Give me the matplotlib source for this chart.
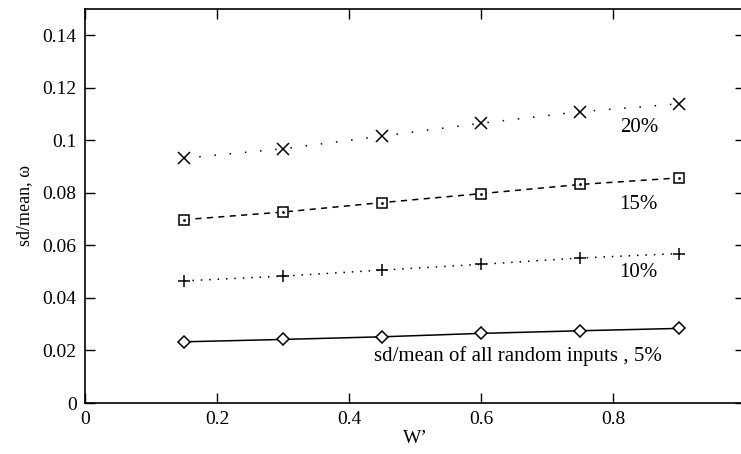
import matplotlib
matplotlib.use("Agg")
import matplotlib.pyplot as plt

plt.rcParams['font.family'] = ['Liberation Serif', 'DejaVu Serif']

w = [0.15, 0.30, 0.45, 0.60, 0.75, 0.90]
s5 = [0.0233, 0.0242, 0.0252, 0.0265, 0.0275, 0.0284]
s10 = [0.0465, 0.0483, 0.0506, 0.0528, 0.0552, 0.0569]
s15 = [0.0698, 0.0727, 0.0763, 0.0797, 0.0832, 0.0857]
s20 = [0.0932, 0.0968, 0.1016, 0.1065, 0.1109, 0.1139]
labels = ["sd/mean of all random inputs , 5%", "10%", "15%", "20%"]
xticks = [0, 0.2, 0.4, 0.6, 0.8]
yticks = [0, 0.02, 0.04, 0.06, 0.08, 0.1, 0.12, 0.14]
yticklabels = ["0", "0.02", "0.04", "0.06", "0.08", "0.1", "0.12", "0.14"]

fig = plt.figure(figsize=(7.41, 4.54), dpi=100)
ax = fig.add_axes([85/741, 51/454, 660/741, 394/454])

ax.plot(w, s5, color='black', lw=1.1, marker='D', ms=6, mfc='white', mec='black', mew=1.1)
ax.plot(w, s10, color='black', lw=1.1, ls=(0, (1, 4.5)), marker='+', ms=9, mew=1.1)
ax.plot(w, s15, color='black', lw=1.1, ls=(0, (4, 3.5)), marker='s', ms=7.5, mfc='white', mec='black', mew=1.1)
ax.plot(w, s15, ls='none', marker='.', ms=2, color='black')
ax.plot(w, s20, color='black', lw=1.1, ls=(0, (1, 9)), marker='x', ms=8, mew=1.1)

ax.set_xlim(0, 1.0)
ax.set_ylim(0, 0.15)
ax.set_xticks(xticks)
ax.set_xticklabels([("%g" % t) for t in xticks])
ax.set_yticks(yticks)
ax.set_yticklabels(yticklabels)
ax.tick_params(direction='in', length=7.5, width=1.0, top=True, right=True, labelsize=14, pad=6)
for sp in ax.spines.values():
    sp.set_linewidth(1.2)

ax.set_xlabel("W’", fontsize=14, labelpad=1)
ax.set_ylabel("sd/mean, ω", fontsize=13, labelpad=7)

ax.text(0.874, 0.0178, labels[0], fontsize=15, ha='right', va='center')
ax.text(0.868, 0.0498, labels[1], fontsize=15, ha='right', va='center')
ax.text(0.868, 0.0756, labels[2], fontsize=15, ha='right', va='center')
ax.text(0.868, 0.1050, labels[3], fontsize=15, ha='right', va='center')

fig.savefig("out.png", dpi=100)
